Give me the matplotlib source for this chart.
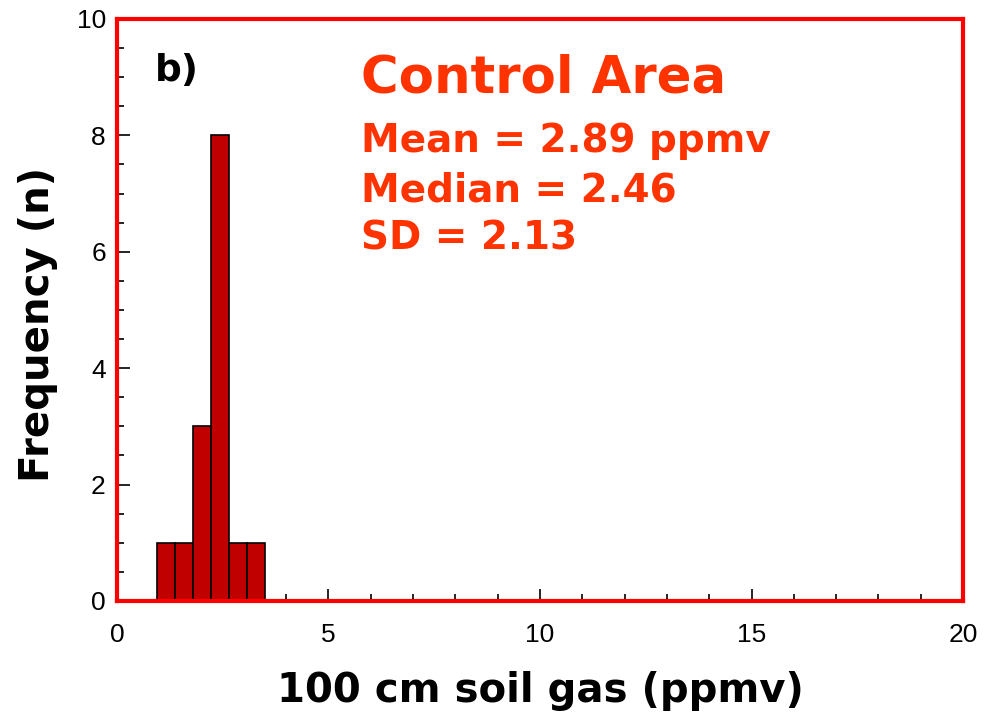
import numpy as np
import matplotlib.pyplot as plt
from matplotlib.ticker import MultipleLocator

plt.rcParams['font.family'] = ['Liberation Sans', 'DejaVu Sans']
heavy = ['DejaVu Sans']

# histogram of 100 cm soil gas, control area
bin_left = [0.94, 1.365, 1.79, 2.215, 2.64, 3.065]
bin_width = 0.425
counts = [1, 1, 3, 8, 1, 1]

stats_title = 'Control Area'
stats_lines = ['Mean = 2.89 ppmv', 'Median = 2.46', 'SD = 2.13']

fig = plt.figure(figsize=(9.98, 7.14), dpi=100)
ax = fig.add_axes([0.1172, 0.1583, 0.8478, 0.8151])

ax.bar(bin_left, counts, width=bin_width, align='edge',
       color='#C00000', edgecolor='black', linewidth=1.2, zorder=2)

ax.set_xlim(0, 20)
ax.set_ylim(0, 10)
ax.xaxis.set_major_locator(MultipleLocator(5))
ax.xaxis.set_minor_locator(MultipleLocator(1))
ax.yaxis.set_major_locator(MultipleLocator(2))
ax.yaxis.set_minor_locator(MultipleLocator(0.5))
ax.tick_params(which='both', direction='in', top=False, right=False,
               color='black', width=1.2)
ax.tick_params(which='major', length=9, labelsize=19,
               labelfontfamily='Liberation Sans')
ax.tick_params(axis='x', which='major', pad=16)
ax.tick_params(axis='y', which='major', pad=8)
ax.tick_params(which='minor', length=5)

for s in ax.spines.values():
    s.set_color('#FF0000')
    s.set_linewidth(3)
    s.set_zorder(3)

ax.set_xlabel('100 cm soil gas (ppmv)', fontsize=29, fontweight='bold',
              family=heavy, labelpad=17)
ax.set_ylabel('Frequency (n)', fontsize=29, fontweight='bold', family=heavy)
ax.yaxis.set_label_coords(-0.07, 0.476)

ax.text(0.045, 0.91, 'b)', transform=ax.transAxes, fontsize=27,
        fontweight='bold', family=heavy, color='black', va='center')
ax.text(0.289, 0.897, stats_title, transform=ax.transAxes, fontsize=37,
        fontweight='bold', family=heavy, color='#FF3300', va='center')
for y, line in zip([0.79, 0.706, 0.622], stats_lines):
    ax.text(0.289, y, line, transform=ax.transAxes, fontsize=28,
            fontweight='bold', family=heavy, color='#FF3300', va='center')

fig.savefig('out.png', dpi=100)
